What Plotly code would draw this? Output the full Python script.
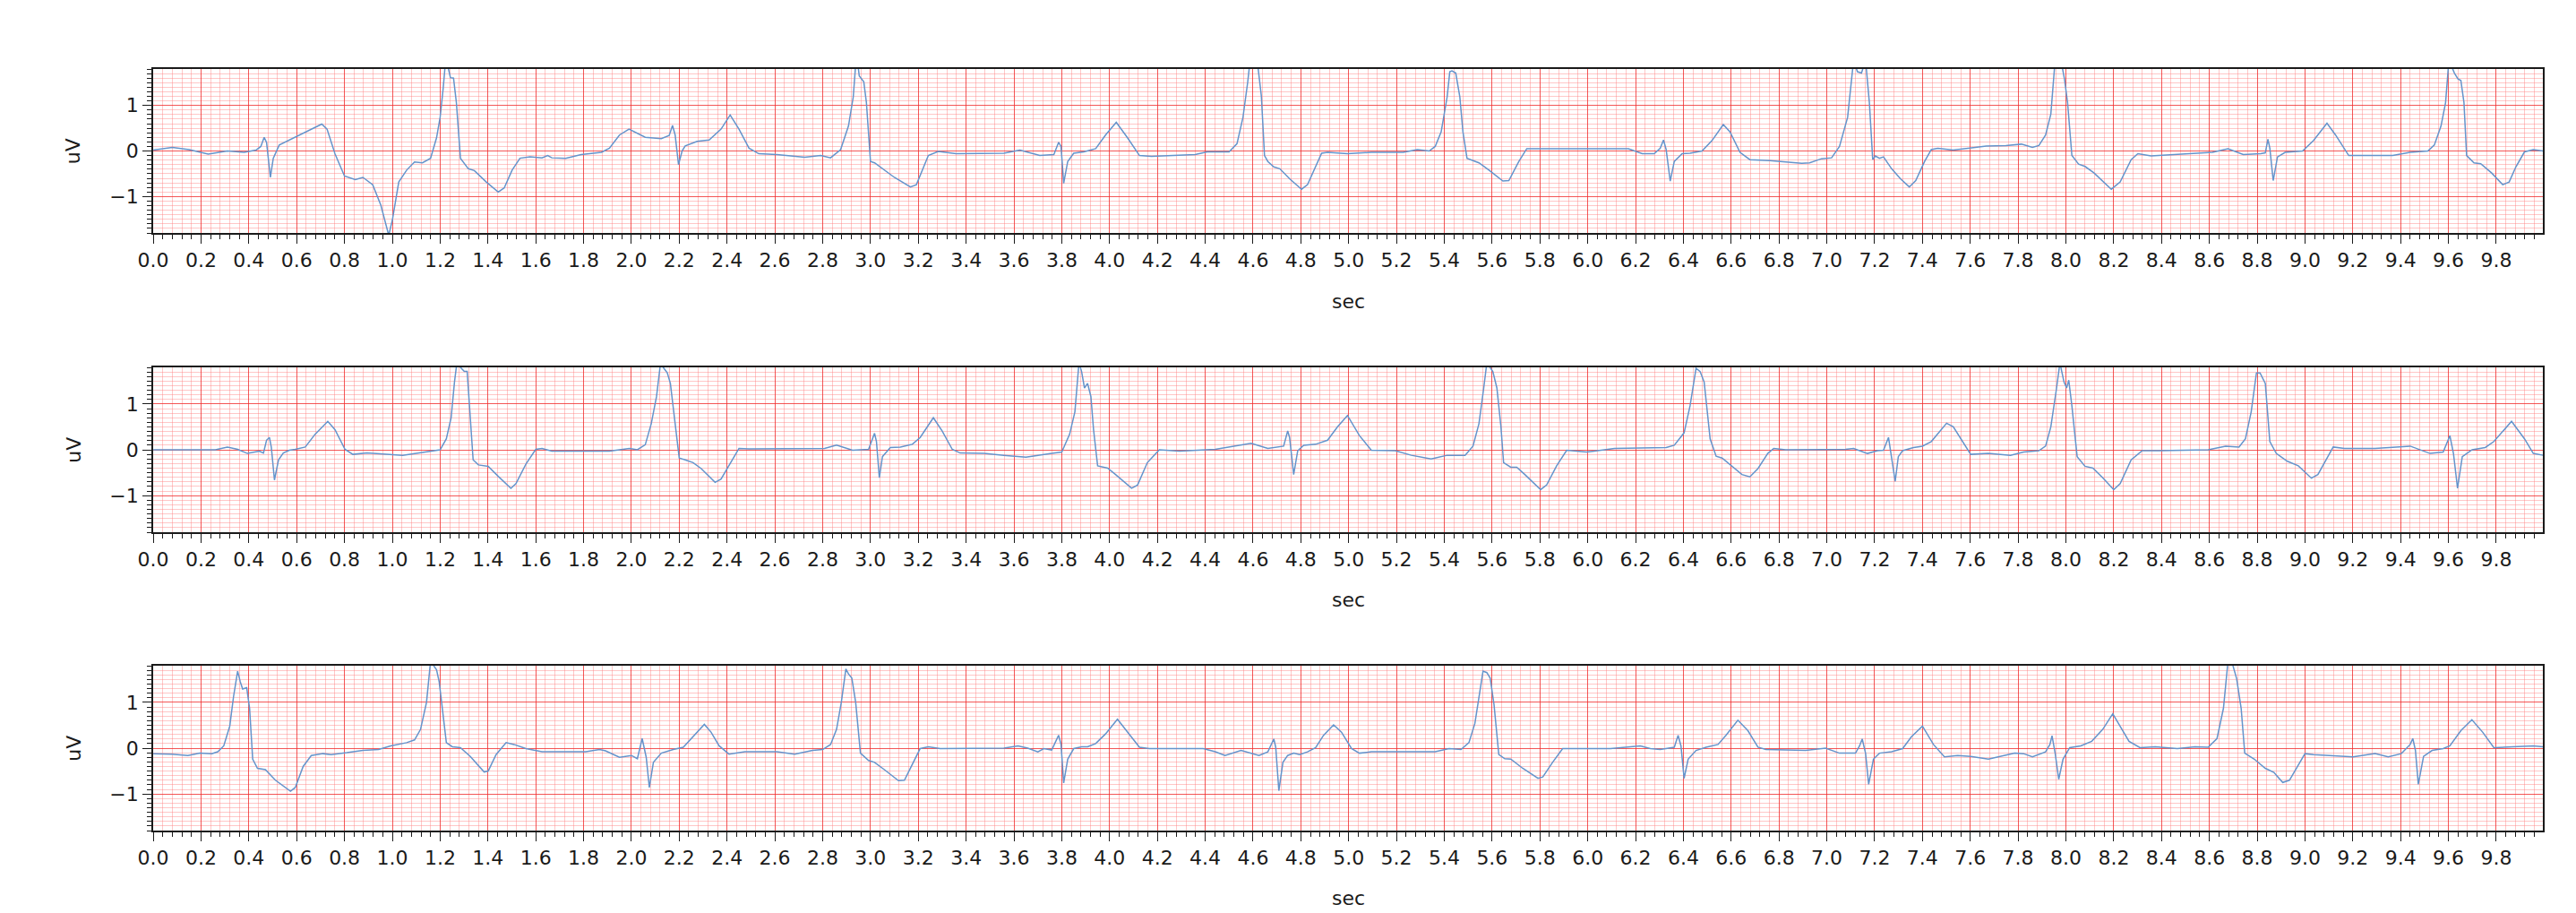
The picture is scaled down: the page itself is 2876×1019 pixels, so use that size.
import plotly.graph_objects as go

# lead 1 (top strip): time in s, amplitude in uV
lead1_t = [0.0, 0.08, 0.15, 0.23, 0.31, 0.38, 0.43, 0.45, 0.464, 0.474, 0.49, 0.502, 0.527, 0.55, 0.594,
           0.644, 0.705, 0.727, 0.76, 0.80, 0.845, 0.877, 0.918, 0.952, 0.985, 1.0, 1.027, 1.06, 1.093, 1.126,
           1.16, 1.185, 1.2, 1.213, 1.223, 1.235, 1.243, 1.256, 1.268, 1.285, 1.318, 1.343, 1.393, 1.443, 1.468,
           1.501, 1.534, 1.576, 1.626, 1.65, 1.667, 1.725, 1.79, 1.875, 1.908, 1.95, 1.99, 2.058, 2.125, 2.158,
           2.172, 2.183, 2.197, 2.212, 2.225, 2.275, 2.325, 2.375, 2.413, 2.45, 2.492, 2.533, 2.608, 2.725, 2.792,
           2.833, 2.875, 2.908, 2.928, 2.938, 2.945, 2.953, 2.972, 2.983, 3.0, 3.017, 3.05, 3.1, 3.167, 3.192,
           3.242, 3.283, 3.358, 3.558, 3.625, 3.708, 3.767, 3.787, 3.797, 3.808, 3.825, 3.85, 3.892, 3.942, 3.983,
           4.028, 4.075, 4.125, 4.175, 4.358, 4.408, 4.5, 4.533, 4.558, 4.578, 4.59, 4.615, 4.635, 4.648, 4.662,
           4.687, 4.712, 4.753, 4.803, 4.828, 4.862, 4.887, 4.912, 4.995, 5.095, 5.228, 5.287, 5.337, 5.362,
           5.387, 5.412, 5.423, 5.432, 5.448, 5.465, 5.478, 5.495, 5.52, 5.545, 5.587, 5.645, 5.67, 5.712, 5.745,
           5.828, 5.995, 6.17, 6.228, 6.278, 6.303, 6.317, 6.328, 6.345, 6.362, 6.395, 6.428, 6.478, 6.52, 6.567,
           6.595, 6.637, 6.678, 6.762, 6.895, 6.928, 6.978, 7.02, 7.053, 7.087, 7.112, 7.128, 7.145, 7.162, 7.178,
           7.192, 7.203, 7.22, 7.237, 7.271, 7.308, 7.345, 7.372, 7.409, 7.437, 7.464, 7.529, 7.602, 7.667, 7.749,
           7.814, 7.86, 7.887, 7.915, 7.937, 7.955, 7.979, 7.994, 8.007, 8.025, 8.053, 8.08, 8.117, 8.19, 8.227,
           8.273, 8.301, 8.356, 8.466, 8.613, 8.678, 8.742, 8.815, 8.834, 8.845, 8.853, 8.867, 8.885, 8.917, 8.99,
           9.036, 9.092, 9.128, 9.183, 9.22, 9.367, 9.44, 9.514, 9.541, 9.569, 9.588, 9.602, 9.625, 9.64, 9.652,
           9.665, 9.676, 9.707, 9.735, 9.78, 9.827, 9.854, 9.882, 9.918, 9.955, 9.996]
lead1_uv = [0.02, 0.08, 0.03, -0.07, 0.0, -0.03, 0.02, 0.1, 0.3, 0.19, -0.58, -0.16, 0.13, 0.19, 0.29,
            0.42, 0.59, 0.48, -0.06, -0.55, -0.63, -0.58, -0.74, -1.19, -1.85, -1.52, -0.68, -0.42, -0.24, -0.26,
            -0.16, 0.29, 0.74, 1.39, 2.0, 1.8, 1.61, 1.6, 1.06, -0.16, -0.39, -0.43, -0.68, -0.9, -0.81,
            -0.42, -0.16, -0.13, -0.15, -0.1, -0.15, -0.16, -0.08, -0.03, 0.06, 0.35, 0.48, 0.3, 0.27, 0.34,
            0.56, 0.35, -0.3, 0.0, 0.11, 0.21, 0.24, 0.48, 0.79, 0.48, 0.06, -0.06, -0.08, -0.14, -0.1,
            -0.15, 0.03, 0.55, 1.19, 1.9, 2.0, 1.65, 1.52, 1.06, -0.23, -0.26, -0.39, -0.58, -0.79, -0.74,
            -0.1, -0.01, -0.06, -0.05, 0.02, -0.1, -0.08, 0.19, 0.1, -0.71, -0.23, -0.05, -0.02, 0.05, 0.35,
            0.63, 0.29, -0.1, -0.12, -0.08, -0.02, -0.02, 0.16, 0.74, 1.52, 2.1, 2.1, 1.2, -0.1, -0.23,
            -0.35, -0.39, -0.61, -0.84, -0.74, -0.35, -0.05, -0.03, -0.06, -0.03, -0.03, 0.03, 0.0, 0.1,
            0.42, 1.19, 1.74, 1.76, 1.71, 1.19, 0.42, -0.16, -0.21, -0.26, -0.42, -0.66, -0.65, -0.23, 0.05,
            0.05, 0.05, 0.05, -0.06, -0.06, 0.06, 0.24, 0.03, -0.66, -0.23, -0.06, -0.05, 0.0, 0.23, 0.58,
            0.42, -0.03, -0.19, -0.21, -0.27, -0.26, -0.17, -0.15, 0.1, 0.74, 2.0, 1.74, 1.71, 2.0, 1.06,
            -0.19, -0.11, -0.16, -0.13, -0.39, -0.61, -0.79, -0.65, -0.23, 0.03, 0.06, 0.02, 0.06, 0.11, 0.12,
            0.15, 0.08, 0.12, 0.35, 0.81, 2.0, 2.0, 1.58, 1.06, -0.1, -0.29, -0.34, -0.48, -0.84, -0.68,
            -0.19, -0.06, -0.11, -0.08, -0.03, 0.05, -0.08, -0.06, -0.04, 0.26, 0.06, -0.65, -0.13, -0.03, 0.0,
            0.23, 0.61, 0.35, -0.1, -0.1, -0.1, -0.03, 0.0, 0.13, 0.55, 1.06, 2.0, 1.71, 1.58, 1.55,
            1.06, -0.1, -0.26, -0.28, -0.48, -0.74, -0.68, -0.35, -0.02, 0.03, 0.0]

# lead 2 (middle strip)
lead2_t = [0.0, 0.26, 0.31, 0.353, 0.394, 0.444, 0.461, 0.474, 0.486, 0.494, 0.507, 0.524, 0.544, 0.569, 0.594,
           0.636, 0.677, 0.73, 0.76, 0.802, 0.835, 0.894, 1.043, 1.11, 1.176, 1.2, 1.226, 1.246, 1.26, 1.27,
           1.285, 1.301, 1.313, 1.326, 1.338, 1.36, 1.401, 1.443, 1.496, 1.517, 1.559, 1.6, 1.626, 1.667, 1.908,
           1.992, 2.025, 2.058, 2.083, 2.105, 2.122, 2.133, 2.15, 2.163, 2.183, 2.2, 2.225, 2.258, 2.292, 2.35,
           2.375, 2.408, 2.45, 2.492, 2.808, 2.858, 2.925, 2.992, 3.017, 3.025, 3.037, 3.05, 3.083, 3.125, 3.175,
           3.208, 3.263, 3.3, 3.342, 3.375, 3.475, 3.558, 3.65, 3.758, 3.8, 3.833, 3.855, 3.872, 3.883, 3.895,
           3.908, 3.922, 3.933, 3.95, 3.992, 4.025, 4.092, 4.117, 4.158, 4.208, 4.292, 4.442, 4.592, 4.662, 4.728,
           4.745, 4.753, 4.77, 4.787, 4.812, 4.862, 4.912, 4.953, 4.995, 5.045, 5.095, 5.195, 5.262, 5.345, 5.412,
           5.487, 5.52, 5.545, 5.565, 5.578, 5.603, 5.62, 5.637, 5.648, 5.678, 5.703, 5.737, 5.803, 5.828, 5.87,
           5.912, 5.995, 6.112, 6.328, 6.362, 6.403, 6.428, 6.453, 6.47, 6.487, 6.512, 6.537, 6.562, 6.603, 6.645,
           6.678, 6.712, 6.753, 6.778, 6.828, 7.078, 7.112, 7.17, 7.212, 7.237, 7.258, 7.268, 7.286, 7.299, 7.317,
           7.363, 7.4, 7.437, 7.501, 7.529, 7.575, 7.602, 7.676, 7.768, 7.823, 7.887, 7.915, 7.937, 7.961, 7.975,
           7.992, 8.003, 8.012, 8.025, 8.047, 8.08, 8.113, 8.154, 8.2, 8.227, 8.273, 8.319, 8.393, 8.595, 8.668,
           8.724, 8.751, 8.775, 8.797, 8.812, 8.834, 8.853, 8.88, 8.926, 8.972, 9.027, 9.054, 9.118, 9.165, 9.293,
           9.44, 9.523, 9.578, 9.606, 9.621, 9.638, 9.658, 9.699, 9.754, 9.79, 9.864, 9.918, 9.955, 9.996]
lead2_uv = [0.0, 0.0, 0.06, 0.01, -0.08, -0.03, -0.07, 0.21, 0.27, 0.05, -0.66, -0.22, -0.07, -0.01, 0.01,
            0.06, 0.34, 0.62, 0.44, 0.01, -0.1, -0.07, -0.12, -0.07, -0.02, 0.0, 0.24, 0.7, 1.48, 1.9,
            1.8, 1.71, 1.71, 0.7, -0.22, -0.33, -0.36, -0.58, -0.84, -0.74, -0.31, 0.01, 0.03, -0.03, -0.03,
            0.03, 0.0, 0.11, 0.57, 1.16, 1.9, 1.8, 1.68, 1.45, 0.5, -0.18, -0.22, -0.28, -0.41, -0.71,
            -0.64, -0.35, 0.03, 0.02, 0.03, 0.1, -0.01, 0.01, 0.36, 0.18, -0.61, -0.15, 0.05, 0.06, 0.12,
            0.27, 0.7, 0.41, 0.01, -0.07, -0.08, -0.12, -0.16, -0.08, -0.05, 0.34, 0.83, 1.9, 1.71, 1.35,
            1.45, 1.16, 0.44, -0.35, -0.4, -0.54, -0.84, -0.77, -0.28, 0.0, -0.03, 0.01, 0.14, 0.03, 0.08,
            0.41, 0.27, -0.54, -0.02, 0.1, 0.12, 0.21, 0.5, 0.75, 0.31, -0.01, -0.02, -0.12, -0.2, -0.12,
            -0.12, 0.08, 0.57, 1.35, 1.9, 1.71, 1.35, 0.5, -0.28, -0.38, -0.38, -0.54, -0.87, -0.77, -0.35,
            -0.01, -0.05, 0.03, 0.05, 0.1, 0.37, 0.96, 1.78, 1.71, 1.48, 0.24, -0.14, -0.18, -0.35, -0.54,
            -0.59, -0.41, -0.08, 0.03, 0.0, 0.01, 0.03, -0.08, -0.02, -0.01, 0.27, -0.05, -0.69, -0.15, -0.02,
            0.05, 0.08, 0.18, 0.58, 0.5, 0.11, -0.1, -0.08, -0.12, -0.05, -0.02, 0.08, 0.5, 1.35, 1.9,
            1.48, 1.35, 1.52, 0.96, -0.15, -0.36, -0.4, -0.61, -0.87, -0.74, -0.22, -0.02, -0.02, 0.0, 0.08,
            0.06, 0.24, 0.83, 1.68, 1.68, 1.45, 0.18, -0.08, -0.25, -0.35, -0.62, -0.54, 0.06, 0.03, 0.03,
            0.08, -0.08, -0.05, 0.31, -0.08, -0.84, -0.15, 0.0, 0.05, 0.18, 0.62, 0.24, -0.08, -0.12]

# lead 3 (bottom strip)
lead3_t = [0.0, 0.078, 0.145, 0.195, 0.245, 0.27, 0.295, 0.32, 0.336, 0.353, 0.364, 0.374, 0.391, 0.403, 0.416,
           0.436, 0.469, 0.511, 0.574, 0.594, 0.627, 0.661, 0.71, 0.744, 0.81, 0.877, 0.943, 0.993, 1.06, 1.093,
           1.118, 1.143, 1.16, 1.185, 1.196, 1.21, 1.226, 1.251, 1.285, 1.326, 1.384, 1.401, 1.434, 1.476, 1.509,
           1.559, 1.626, 1.809, 1.867, 1.892, 1.95, 2.0, 2.025, 2.045, 2.062, 2.075, 2.092, 2.125, 2.175, 2.217,
           2.258, 2.305, 2.333, 2.367, 2.408, 2.475, 2.608, 2.683, 2.758, 2.8, 2.833, 2.858, 2.878, 2.897, 2.908,
           2.922, 2.938, 2.958, 2.992, 3.017, 3.058, 3.117, 3.142, 3.175, 3.208, 3.242, 3.292, 3.558, 3.617, 3.658,
           3.7, 3.725, 3.758, 3.775, 3.787, 3.797, 3.808, 3.825, 3.85, 3.883, 3.908, 3.942, 3.983, 4.033, 4.075,
           4.125, 4.167, 4.392, 4.442, 4.483, 4.55, 4.625, 4.662, 4.687, 4.695, 4.708, 4.725, 4.745, 4.77, 4.795,
           4.828, 4.862, 4.895, 4.937, 4.97, 5.012, 5.045, 5.095, 5.362, 5.42, 5.47, 5.503, 5.528, 5.548, 5.562,
           5.578, 5.592, 5.608, 5.628, 5.653, 5.678, 5.728, 5.792, 5.812, 5.853, 5.895, 6.095, 6.22, 6.262, 6.303,
           6.362, 6.378, 6.39, 6.403, 6.42, 6.453, 6.495, 6.545, 6.578, 6.628, 6.67, 6.712, 6.745, 6.912, 6.995,
           7.053, 7.12, 7.137, 7.148, 7.162, 7.175, 7.195, 7.22, 7.271, 7.317, 7.354, 7.4, 7.446, 7.492, 7.547,
           7.602, 7.676, 7.731, 7.786, 7.823, 7.86, 7.915, 7.933, 7.942, 7.955, 7.97, 7.988, 8.016, 8.062, 8.108,
           8.154, 8.196, 8.227, 8.264, 8.31, 8.374, 8.466, 8.54, 8.595, 8.632, 8.659, 8.678, 8.696, 8.714, 8.733,
           8.748, 8.788, 8.834, 8.87, 8.907, 8.935, 8.963, 9.0, 9.036, 9.11, 9.201, 9.293, 9.348, 9.403, 9.44,
           9.451, 9.462, 9.474, 9.496, 9.532, 9.578, 9.606, 9.652, 9.698, 9.743, 9.79, 9.882, 9.955, 9.996]
lead3_uv = [-0.12, -0.13, -0.16, -0.11, -0.12, -0.08, 0.05, 0.48, 1.13, 1.68, 1.45, 1.29, 1.32, 0.87, -0.24,
            -0.44, -0.47, -0.7, -0.94, -0.86, -0.4, -0.16, -0.12, -0.14, -0.1, -0.05, -0.03, 0.05, 0.12, 0.18,
            0.41, 1.0, 1.9, 1.71, 1.45, 0.87, 0.12, 0.03, 0.01, -0.18, -0.52, -0.5, -0.14, 0.12, 0.08,
            -0.01, -0.08, -0.08, -0.03, -0.06, -0.2, -0.16, -0.23, 0.21, -0.2, -0.86, -0.31, -0.11, -0.03, 0.02,
            0.25, 0.52, 0.35, 0.05, -0.13, -0.08, -0.08, -0.13, -0.05, -0.03, 0.08, 0.41, 1.0, 1.73, 1.62,
            1.53, 1.0, -0.11, -0.27, -0.31, -0.47, -0.71, -0.7, -0.37, -0.01, 0.03, -0.01, 0.0, 0.05, 0.0,
            -0.08, -0.01, -0.04, 0.15, 0.28, 0.08, -0.76, -0.24, -0.01, 0.03, 0.03, 0.1, 0.31, 0.63, 0.35,
            0.02, -0.01, -0.01, -0.08, -0.16, -0.05, -0.16, -0.08, 0.2, 0.02, -0.93, -0.31, -0.16, -0.11, -0.14,
            -0.08, 0.01, 0.28, 0.51, 0.35, -0.01, -0.11, -0.08, -0.08, -0.01, -0.03, 0.12, 0.54, 1.19, 1.68,
            1.65, 1.53, 0.95, -0.14, -0.23, -0.24, -0.44, -0.66, -0.63, -0.31, -0.01, -0.01, 0.05, -0.01, -0.03,
            0.02, 0.28, 0.05, -0.66, -0.24, -0.05, 0.02, 0.08, 0.28, 0.61, 0.38, 0.02, -0.03, -0.05, 0.0,
            -0.11, -0.11, 0.05, 0.2, -0.11, -0.79, -0.24, -0.11, -0.08, -0.01, 0.25, 0.48, 0.08, -0.19, -0.16,
            -0.18, -0.24, -0.18, -0.11, -0.12, -0.19, -0.08, 0.08, 0.27, -0.11, -0.68, -0.24, 0.01, 0.05, 0.15,
            0.41, 0.75, 0.48, 0.15, 0.01, 0.03, -0.01, 0.03, 0.02, 0.21, 0.87, 1.9, 1.85, 1.52, 0.87,
            -0.11, -0.24, -0.44, -0.53, -0.75, -0.7, -0.44, -0.12, -0.14, -0.16, -0.19, -0.12, -0.19, -0.12, 0.08,
            0.21, -0.05, -0.79, -0.18, -0.05, -0.01, 0.05, 0.38, 0.62, 0.35, 0.01, 0.03, 0.05, 0.03]

leads = [(lead1_t, lead1_uv), (lead2_t, lead2_uv), (lead3_t, lead3_uv)]

W, H = 2876, 1019
x_dom = [146 / W, 2831 / W]
rows_px = [(69, 252), (402, 586), (735, 919)]  # top / bottom of each strip
sec_px = [328, 661, 994]

major_red = 'rgba(240,45,45,0.8)'
minor_red = 'rgba(255,130,130,0.45)'
ink = '#1a1a1a'
font = dict(family='DejaVu Sans', size=22, color=ink)

fig = go.Figure()
layout = dict(width=W, height=H, margin=dict(l=0, r=0, t=0, b=0),
              paper_bgcolor='white', plot_bgcolor='white', showlegend=False, annotations=[])

for i, (t, uv) in enumerate(leads):
    n = '' if i == 0 else str(i + 1)
    fig.add_trace(go.Scatter(x=t, y=uv, mode='lines', xaxis='x' + n, yaxis='y' + n,
                             line=dict(color='#6494cc', width=1.5), hoverinfo='skip'))
    top, bot = rows_px[i]
    layout['xaxis' + n] = dict(
        domain=x_dom, anchor='y' + n, range=[0, 9.996], tick0=0, dtick=0.2, tickformat='.1f',
        showgrid=True, gridcolor=major_red, gridwidth=1.2, zeroline=False,
        ticks='outside', ticklen=10, tickwidth=1.4, tickcolor=ink, tickfont=font,
        showline=True, mirror=True, linecolor=ink, linewidth=2,
        minor=dict(tick0=0, dtick=0.04, showgrid=True, gridcolor=minor_red, gridwidth=1,
                   ticks='outside', ticklen=5, tickwidth=1.1, tickcolor=ink))
    layout['yaxis' + n] = dict(
        domain=[(H - bot) / H, (H - top) / H], anchor='x' + n, range=[-1.8, 1.8], tick0=0, dtick=1,
        showgrid=True, gridcolor=major_red, gridwidth=1.2, zeroline=False,
        ticks='outside', ticklen=10, tickwidth=1.4, tickcolor=ink, tickfont=font,
        showline=True, mirror=True, linecolor=ink, linewidth=2,
        minor=dict(tick0=0, dtick=0.1, showgrid=True, gridcolor=minor_red, gridwidth=1,
                   ticks='outside', ticklen=5, tickwidth=1.1, tickcolor=ink))
    layout['annotations'].append(dict(text='uV', xref='paper', yref='paper', x=56 / W,
                                      y=(H - (top + bot) / 2) / H, textangle=-90, showarrow=False,
                                      font=font, xanchor='center', yanchor='middle'))
    layout['annotations'].append(dict(text='sec', xref='paper', yref='paper', x=1489 / W,
                                      y=(H - sec_px[i]) / H, showarrow=False, font=font,
                                      xanchor='center', yanchor='middle'))

fig.update_layout(**layout)
fig.write_html("out.html")
